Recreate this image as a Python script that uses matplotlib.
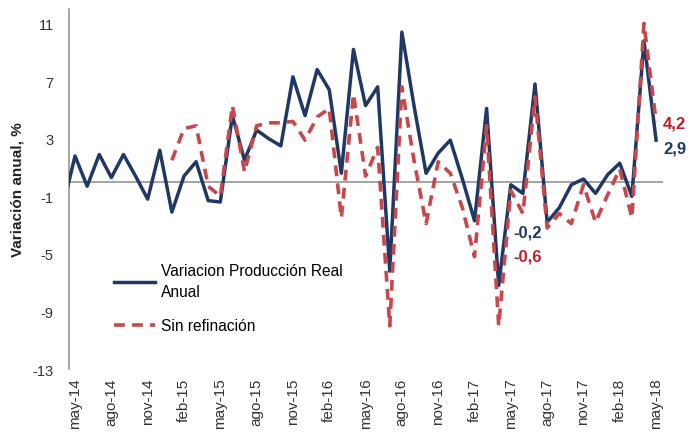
'''variacion anual produccion real'''
import matplotlib.pyplot as plt
import numpy as np

plt.rcParams['font.family'] = ['Liberation Sans', 'DejaVu Sans']

# months from abr-14 (hidden behind the axis) to may-18
months = np.arange(-1, 49)
produccion = [-1.7,
              1.8, -0.3, 1.9, 0.3, 1.9, 0.4, -1.2, 2.2, -2.1, 0.4,
              1.4, -1.3, -1.4, 4.6, 1.5, 3.6, 3.0, 2.5, 7.3, 4.6,
              7.8, 6.4, 0.6, 9.2, 5.3, 6.6, -6.2, 10.4, 5.3, 0.6,
              2.0, 2.9, 0.2, -2.7, 5.1, -7.2, -0.2, -0.8, 6.8, -2.8,
              -1.8, -0.2, 0.2, -0.8, 0.5, 1.3, -1.0, 9.8, 2.9]
sin_refinacion = [np.nan,
                  np.nan, np.nan, np.nan, np.nan, np.nan, np.nan, np.nan, np.nan, 1.5, 3.7,
                  3.9, -0.3, -1.0, 5.3, 0.7, 3.9, 4.1, 4.1, 4.2, 2.9,
                  4.5, 5.1, -2.5, 6.1, 0.4, 2.4, -10.0, 6.6, 1.5, -2.9,
                  1.4, 0.6, -1.8, -5.2, 3.9, -10.0, -0.6, -2.2, 5.9, -3.2,
                  -2.2, -2.9, -0.2, -2.8, -0.9, 0.9, -2.5, 11.0, 4.2]
tick_labels = ['may-14', 'ago-14', 'nov-14', 'feb-15', 'may-15', 'ago-15',
               'nov-15', 'feb-16', 'may-16', 'ago-16', 'nov-16', 'feb-17',
               'may-17', 'ago-17', 'nov-17', 'feb-18', 'may-18']
y_ticks = [-13, -9, -5, -1, 3, 7, 11]

blue = '#1F3864'
red = '#C9474A'
red_txt = '#C0202A'

fig = plt.figure(figsize=(6.92, 4.39), dpi=100)
ax = fig.add_axes([0.0997, 0.157, 0.858, 0.82])

ax.axhline(0, color='#8C8C8C', lw=1.1, zorder=1)
ax.plot(months, produccion, color=blue, lw=2.5, label='Variacion Producción Real\nAnual', zorder=3)
ax.plot(months, sin_refinacion, color=red, lw=2.6, dashes=(3.0, 2.0),
        label='Sin refinación', zorder=4)

ax.set_xlim(-0.5, 48.55)
ax.set_ylim(-13, 12)
ax.set_yticks(y_ticks)
ax.set_yticklabels([str(v) for v in y_ticks], fontsize=10.5, color='#333333')
ax.set_xticks(range(0, 49, 3))
ax.set_xticklabels(tick_labels, rotation=90, fontsize=11, color='#333333')
ax.tick_params(length=0, pad=6)
ax.tick_params(axis='y', pad=11)

for side in ['top', 'right', 'bottom']:
    ax.spines[side].set_visible(False)
ax.spines['left'].set_color('#8C8C8C')
ax.spines['left'].set_linewidth(1.1)

ax.set_ylabel('Variación anual, %', fontsize=11, fontweight='bold', color='#222222', labelpad=6)

# value labels
last = len(months) - 1
ax.annotate('4,2', xy=(months[last], sin_refinacion[last]), xytext=(5, -1),
            textcoords='offset points', color=red_txt, fontsize=12, fontweight='bold', va='center')
ax.annotate('2,9', xy=(months[last], produccion[last]), xytext=(5, -6),
            textcoords='offset points', color=blue, fontsize=12, fontweight='bold', va='center')
may17 = 37
ax.annotate('-0,2', xy=(months[may17], produccion[may17]), xytext=(2, -34),
            textcoords='offset points', color=blue, fontsize=12, fontweight='bold', va='center')
ax.annotate('-0,6', xy=(months[may17], sin_refinacion[may17]), xytext=(2, -47),
            textcoords='offset points', color=red_txt, fontsize=12, fontweight='bold', va='center')

leg = ax.legend(loc='upper left', bbox_to_anchor=(0.066, 0.312), frameon=False, borderaxespad=0,
                fontsize=11.2, handlelength=2.6, labelspacing=1.25, handletextpad=0.4)
leg.get_texts()[0].set_linespacing(1.5)

fig.savefig('out.png', dpi=100)
